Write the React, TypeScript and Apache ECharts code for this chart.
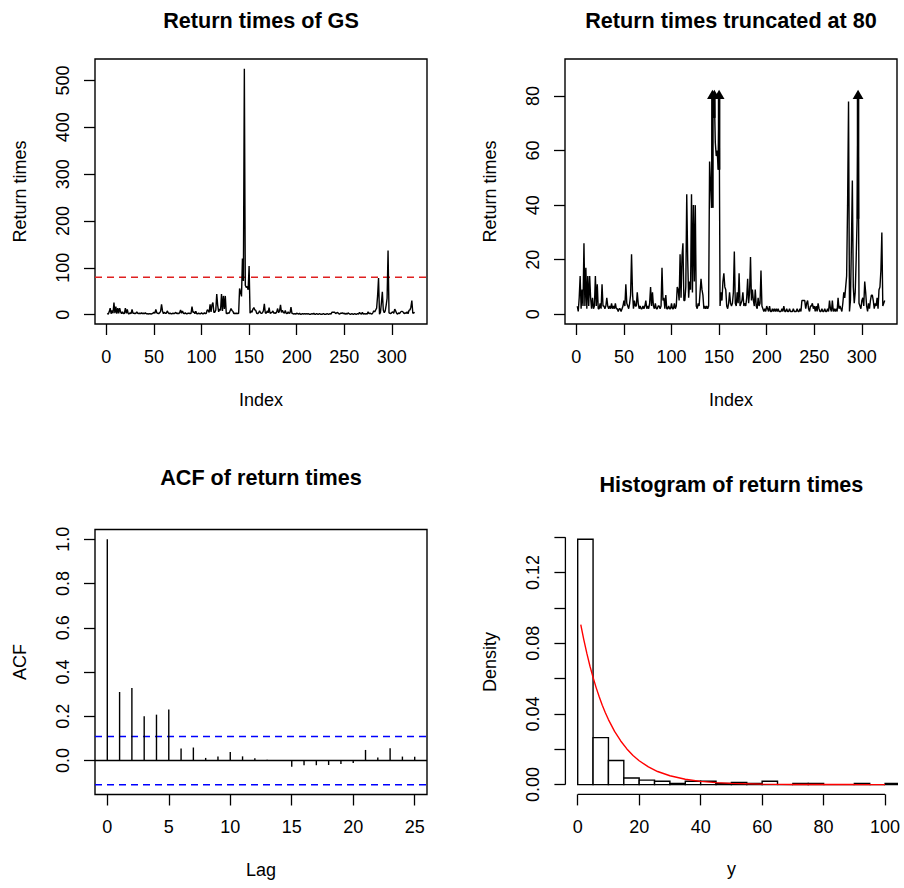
import React, { useEffect, useRef } from "react";
import * as echarts from "echarts";

// ---------- data ----------
const returnTimes: number[] = [
  3, 1, 6, 14, 2, 9, 3, 26, 3, 17,
  2, 14, 3, 14, 6, 2, 6, 2, 3, 14,
  3, 11, 2, 2, 4, 2, 11, 3, 3, 2,
  3, 6, 3, 2, 3, 2, 4, 2, 3, 2,
  4, 2, 2, 1, 2, 2, 1, 2, 3, 5,
  3, 11, 4, 3, 2, 4, 7, 22, 8, 2,
  5, 3, 3, 8, 4, 2, 3, 2, 2, 3,
  2, 3, 5, 2, 3, 2, 4, 10, 3, 8,
  3, 2, 4, 2, 2, 3, 3, 2, 3, 17,
  5, 6, 2, 7, 2, 2, 3, 2, 2, 4,
  2, 2, 4, 2, 3, 10, 9, 5, 22, 6,
  21, 26, 5, 5, 10, 44, 20, 6, 12, 9,
  44, 8, 40, 12, 40, 3, 2, 4, 3, 8,
  13, 9, 7, 2, 3, 2, 3, 2, 3, 56,
  48, 39, 120, 72, 525, 63, 58, 60, 53, 104,
  3, 8, 5, 12, 15, 10, 9, 3, 2, 4,
  8, 4, 3, 4, 8, 23, 4, 3, 8, 4,
  15, 3, 4, 5, 8, 3, 4, 3, 6, 13,
  4, 8, 21, 5, 9, 5, 3, 9, 3, 2,
  6, 3, 4, 16, 3, 2, 1, 2, 1, 3,
  2, 1, 3, 1, 1, 2, 1, 2, 1, 2,
  1, 2, 1, 1, 1, 2, 1, 3, 1, 1,
  2, 1, 1, 2, 1, 1, 1, 2, 1, 1,
  1, 2, 1, 1, 2, 1, 5, 5, 5, 5,
  2, 4, 5, 2, 1, 3, 3, 4, 2, 3,
  1, 3, 1, 4, 2, 1, 1, 2, 1, 1,
  2, 1, 1, 2, 1, 5, 2, 1, 5, 1,
  2, 1, 2, 1, 6, 2, 3, 2, 1, 4,
  8, 6, 10, 14, 40, 78, 1, 5, 25, 49,
  10, 4, 8, 20, 35, 137, 4, 3, 2, 5,
  6, 3, 12, 8, 3, 1, 4, 2, 5, 7,
  7, 5, 2, 4, 3, 6, 2, 9, 10, 16,
  30, 3, 4, 5,
];
const truncLevel = 80;
const truncYLim = [0, 90];
const indexTicks = [0, 50, 100, 150, 200, 250, 300];
const returnTicks = [0, 100, 200, 300, 400, 500];
const truncTicks = [0, 20, 40, 60, 80];

const acfLags = [0, 1, 2, 3, 4, 5, 6, 7, 8, 9, 10, 11, 12, 13, 14, 15, 16, 17, 18, 19, 20, 21, 22, 23, 24, 25];
const acfValues = [
  1.0, 0.31, 0.328, 0.2, 0.2075, 0.231, 0.054, 0.059, 0.012, 0.018,
  0.039, 0.019, 0.01, 0.004, 0.002, -0.028, -0.021, -0.021, -0.02, -0.015,
  -0.011, 0.048, 0.014, 0.056, 0.018, 0.017,
];
const acfConf = 0.109;
const acfXTicks = [0, 5, 10, 15, 20, 25];
const acfYTicks = [0, 0.2, 0.4, 0.6, 0.8, 1.0];

const histBreaks = [0, 5, 10, 15, 20, 25, 30, 35, 40, 45, 50, 55, 60, 65, 70, 75, 80, 85, 90, 95, 100, 105];
const histDensity = [
  0.1389, 0.0266, 0.0136, 0.0037, 0.0025, 0.00185, 0.00062, 0.00185, 0.00185, 0.00062,
  0.00123, 0.00062, 0.00185, 0, 0.00062, 0.00062, 0, 0, 0.00062, 0, 0.00062,
];
const histXLim = [0, 100];
const histXTicks = [0, 20, 40, 60, 80, 100];
const histYTicks = [0, 0.02, 0.04, 0.06, 0.08, 0.1, 0.12, 0.14];
const histYLabels = [0, 0.04, 0.08, 0.12];
const curveX = [1, 2, 3, 4, 5, 6, 7, 8, 9, 10, 12, 14, 16, 18, 20, 23, 26, 30, 35, 40, 45, 50, 60, 70, 80, 90, 100];
const curveY = [
  0.0905, 0.0819, 0.0741, 0.067, 0.0607, 0.0549, 0.0497, 0.0449, 0.0407, 0.0368,
  0.0301, 0.0247, 0.0202, 0.0165, 0.0135, 0.01, 0.0074, 0.005, 0.003, 0.0018,
  0.0011, 0.0007, 0.00025, 0.00009, 0.00003, 0.00001, 0.000005,
];

// ---------- helpers ----------
const FONT = '"Liberation Sans", Arial, Helvetica, sans-serif';
const pad = (lo: number, hi: number) => {
  const d = (hi - lo) * 0.04;
  return [lo - d, hi + d];
};

const xAxisCfg = (gridIndex: number, lim: number[], ticks: number[], labels: number[], fmt: (v: number) => string) => ({
  type: "value",
  gridIndex,
  position: "bottom",
  min: lim[0],
  max: lim[1],
  axisLine: { show: false, onZero: false },
  axisTick: { show: true, inside: false, length: 11, customValues: ticks, lineStyle: { color: "#000", width: 1.3 } },
  axisLabel: { show: true, customValues: labels, formatter: fmt, margin: 23.5, color: "#000", fontSize: 18, fontFamily: FONT },
  splitLine: { show: false },
});
const yAxisCfg = (gridIndex: number, lim: number[], ticks: number[], labels: number[], fmt: (v: number) => string) => ({
  type: "value",
  gridIndex,
  position: "left",
  min: lim[0],
  max: lim[1],
  axisLine: { show: false, onZero: false },
  axisTick: { show: true, inside: false, length: 11, customValues: ticks, lineStyle: { color: "#000", width: 1.3 } },
  axisLabel: { show: true, rotate: 90, customValues: labels, formatter: fmt, margin: 23.5, color: "#000", fontSize: 18, fontFamily: FONT },
  splitLine: { show: false },
});

const txt = (text: string, x: number, y: number, size: number, bold: boolean, rot = 0) => ({
  type: "text",
  x,
  y,
  rotation: rot,
  style: {
    text,
    fontSize: size,
    fontWeight: bold ? "bold" : "normal",
    fontFamily: FONT,
    fill: "#000",
    align: "center",
    verticalAlign: "middle",
  },
});

export default function App() {
  const ref = useRef<HTMLDivElement>(null);
  useEffect(() => {
    if (!ref.current) return;
    const chart = echarts.init(ref.current, undefined, { renderer: "svg" });

    const n = returnTimes.length;
    const idxLim = pad(1, n);
    const rtLim = pad(Math.min(...returnTimes), Math.max(...returnTimes));
    const trLim = pad(truncYLim[0], truncYLim[1]);
    const acfXLim = pad(acfLags[0], acfLags[acfLags.length - 1]);
    const acfYLim = pad(Math.min(-acfConf, ...acfValues), Math.max(acfConf, ...acfValues));
    const hXLim = pad(histXLim[0], histXLim[1]);
    const hYLim = pad(0, Math.max(...histDensity));

    const series: any[] = [];
    // Top-left: raw return times
    series.push({
      type: "line", xAxisIndex: 0, yAxisIndex: 0, symbol: "none",
      data: returnTimes.map((v, i) => [i + 1, v]),
      lineStyle: { color: "#000", width: 1.4 }, z: 3,
    });
    series.push({
      type: "line", xAxisIndex: 0, yAxisIndex: 0, symbol: "none",
      data: [[idxLim[0], truncLevel], [idxLim[1], truncLevel]],
      lineStyle: { color: "#DF2020", width: 1.4, type: [7, 5] }, z: 2,
    });
    // Top-right: truncated
    series.push({
      type: "line", xAxisIndex: 1, yAxisIndex: 1, symbol: "none",
      data: returnTimes.map((v, i) => [i + 1, Math.min(v, truncLevel)]),
      lineStyle: { color: "#000", width: 1.4 }, z: 3,
    });
    const arrowData: number[][] = [];
    returnTimes.forEach((v, i) => {
      if (v > truncLevel) {
        const prev = i > 0 ? Math.min(returnTimes[i - 1], truncLevel) : truncLevel;
        arrowData.push([i + 1, prev, truncLevel]);
      }
    });
    series.push({
      type: "custom", xAxisIndex: 1, yAxisIndex: 1, clip: false, z: 4,
      data: arrowData,
      renderItem: (_p: any, api: any) => {
        const a = api.coord([api.value(0), api.value(1)]);
        const b = api.coord([api.value(0), api.value(2)]);
        return {
          type: "group",
          children: [
            { type: "line", shape: { x1: a[0], y1: a[1], x2: b[0], y2: b[1] - 2 }, style: { stroke: "#000", lineWidth: 2.6 } },
            { type: "polygon", shape: { points: [[b[0] - 5.4, b[1] + 3], [b[0] + 5.4, b[1] + 3], [b[0], b[1] - 6.4]] }, style: { fill: "#000" } },
          ],
        };
      },
    });
    // Bottom-left: ACF
    series.push({
      type: "custom", xAxisIndex: 2, yAxisIndex: 2, z: 3,
      data: acfLags.map((l, i) => [l, acfValues[i]]),
      renderItem: (_p: any, api: any) => {
        const a = api.coord([api.value(0), 0]);
        const b = api.coord([api.value(0), api.value(1)]);
        return { type: "line", shape: { x1: a[0], y1: a[1], x2: b[0], y2: b[1] }, style: { stroke: "#000", lineWidth: 1.4 } };
      },
    });
    series.push({
      type: "line", xAxisIndex: 2, yAxisIndex: 2, symbol: "none",
      data: [[acfXLim[0], 0], [acfXLim[1], 0]],
      lineStyle: { color: "#000", width: 1.4 }, z: 2,
    });
    [acfConf, -acfConf].forEach((c) =>
      series.push({
        type: "line", xAxisIndex: 2, yAxisIndex: 2, symbol: "none",
        data: [[acfXLim[0], c], [acfXLim[1], c]],
        lineStyle: { color: "#0000FF", width: 1.4, type: [7, 5] }, z: 2,
      })
    );
    // Bottom-right: histogram
    series.push({
      type: "custom", xAxisIndex: 3, yAxisIndex: 3, clip: true, z: 2,
      data: histDensity.map((d, i) => [histBreaks[i], histBreaks[i + 1], d]),
      renderItem: (_p: any, api: any) => {
        const a = api.coord([api.value(0), api.value(2)]);
        const b = api.coord([api.value(1), 0]);
        return {
          type: "rect",
          shape: { x: a[0], y: a[1], width: b[0] - a[0], height: b[1] - a[1] },
          style: { fill: "#fff", stroke: "#000", lineWidth: 1.4 },
        };
      },
    });
    series.push({
      type: "line", xAxisIndex: 3, yAxisIndex: 3, symbol: "none",
      data: curveX.map((x, i) => [x, curveY[i]]),
      lineStyle: { color: "#FF0000", width: 1.4 }, z: 4,
    });
    series.push({
      type: "line", xAxisIndex: 3, yAxisIndex: 3, symbol: "none", clip: false,
      data: [[hXLim[0], histYTicks[0]], [hXLim[0], histYTicks[histYTicks.length - 1]]],
      lineStyle: { color: "#000", width: 1.3 }, z: 5,
    });
    series.push({
      type: "line", xAxisIndex: 3, yAxisIndex: 3, symbol: "none", clip: false,
      data: [[histXTicks[0], hYLim[0]], [histXTicks[histXTicks.length - 1], hYLim[0]]],
      lineStyle: { color: "#000", width: 1.3 }, z: 5,
    });

    const boxGrid = { show: true, borderColor: "#000", borderWidth: 1.4, backgroundColor: "transparent" };
    const fmtInt = (v: number) => String(Math.round(v));

    chart.setOption({
      animation: false,
      grid: [
        { ...boxGrid, left: 95, top: 59, width: 332, height: 265 },
        { ...boxGrid, left: 565, top: 59, width: 332, height: 265 },
        { ...boxGrid, left: 95, top: 529.5, width: 332, height: 265 },
        { show: false, left: 565.4, top: 529.4, width: 332, height: 265 },
      ],
      xAxis: [
        xAxisCfg(0, idxLim, indexTicks, indexTicks, fmtInt),
        xAxisCfg(1, idxLim, indexTicks, indexTicks, fmtInt),
        xAxisCfg(2, acfXLim, acfXTicks, acfXTicks, fmtInt),
        xAxisCfg(3, hXLim, histXTicks, histXTicks, fmtInt),
      ],
      yAxis: [
        yAxisCfg(0, rtLim, returnTicks, returnTicks, fmtInt),
        yAxisCfg(1, trLim, truncTicks, truncTicks, fmtInt),
        yAxisCfg(2, acfYLim, acfYTicks, acfYTicks, (v: number) => v.toFixed(1)),
        yAxisCfg(3, hYLim, histYTicks, histYLabels, (v: number) => v.toFixed(2)),
      ],
      series,
      graphic: [
        txt("Return times of GS", 261, 20, 21.6, true),
        txt("Return times truncated at 80", 731, 20, 21.6, true),
        txt("ACF of return times", 261, 477, 21.6, true),
        txt("Histogram of return times", 731.4, 484, 21.6, true),
        txt("Index", 261, 400, 18, false),
        txt("Index", 731, 400, 18, false),
        txt("Lag", 261, 870, 18, false),
        txt("y", 731.4, 869, 18, false),
        txt("Return times", 19.6, 191.5, 18, false, Math.PI / 2),
        txt("Return times", 489.6, 191.5, 18, false, Math.PI / 2),
        txt("ACF", 19.6, 662, 18, false, Math.PI / 2),
        txt("Density", 490, 662, 18, false, Math.PI / 2),
      ],
    });
    return () => chart.dispose();
  }, []);
  return <div ref={ref} style={{ position: "absolute", left: 0, top: 0, width: 904, height: 888, background: "#fff" }} />;
}
